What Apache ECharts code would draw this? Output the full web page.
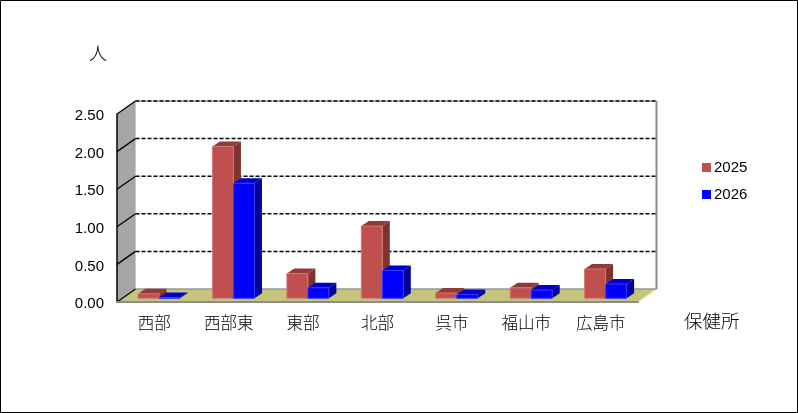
<!DOCTYPE html>
<html><head><meta charset="utf-8">
<style>html,body{margin:0;padding:0;background:#fff}#c{width:798px;height:413px}</style>
<script src="https://cdn.jsdelivr.net/npm/echarts@6/dist/echarts.min.js"></script>
</head><body><div id="c"></div>
<script>
const categories = ['西部','西部東','東部','北部','呉市','福山市','広島市'];
const series2025 = [0.06,2.02,0.33,0.96,0.07,0.14,0.39];
const series2026 = [0.01,1.53,0.14,0.37,0.05,0.11,0.19];
const seriesNames = ['2025','2026'];
const yTicks = [0,0.5,1,1.5,2,2.5];
const yUnit = '人';
const xUnit = '保健所';

const DX = 18.5, DY = 13;       // depth of the floor / walls
const BAR_DX = 7.5, BAR_DY = 5;   // depth of a bar
const INSET_X = 4.8, INSET_Y = 3.7; // bars stand inside the floor
const BAR_W = 21;

function poly(points, fill, stroke, z2) {
  return {type:'polygon', z2:z2||0, shape:{points}, style:{fill, stroke:stroke||'none', lineWidth:stroke?1:0}};
}
function seg(x1,y1,x2,y2,stroke,lineWidth,lineDash,z2) {
  return {type:'line', z2:z2||0, shape:{x1,y1,x2,y2}, style:{stroke, lineWidth:lineWidth||1, lineDash:lineDash||null}};
}
function frameItem(params, api) {
  const cs = params.coordSys;
  const l = cs.x, r = cs.x + cs.width;
  const top = api.coord([0, 2.5])[1], bot = api.coord([0, 0])[1];
  const kids = [];
  // left wall
  kids.push(poly([[l,top],[l+DX,top-DY],[l+DX,bot-DY],[l,bot]], '#a6a6a6'));
  kids.push(seg(l+DX,top-DY,l+DX,bot-DY,'#c8c8c8',1));
  // floor
  kids.push(poly([[l,bot],[l+DX,bot-DY],[r+DX,bot-DY],[r,bot]], '#c4c47c'));
  kids.push(seg(r,bot,r+DX,bot-DY,'#e8e8a8',1.5));
  // back wall edges
  kids.push(seg(l+DX,bot-DY,r+DX,bot-DY,'#999999',1.5));
  kids.push(seg(r+DX,top-DY,r+DX,bot-DY,'#8c8c8c',2));
  kids.push(seg(l+DX,top-DY,r+DX,top-DY,'#999999',1));
  // grid lines, the wall diagonals and dashes
  yTicks.forEach(t => {
    const y = api.coord([0,t])[1];
    kids.push(seg(l,y,l+DX,y-DY,'#000',1.3));
    if (t > 0) kids.push(seg(l+DX,y-DY,r+DX,y-DY,'#000',1.5,[4,2]));
  });
  return {type:'group', children:kids};
}
function barItem(offsetIdx, front, topC, sideC, edge) {
  return function(params, api) {
    const p0 = api.coord([api.value(0), 0]);
    const p1 = api.coord([api.value(0), api.value(1)]);
    const x0 = p0[0] - BAR_W + offsetIdx*BAR_W + INSET_X;
    const x1 = x0 + BAR_W;
    const yb = p0[1] - INSET_Y, yt = p1[1] - INSET_Y;
    return {type:'group', children:[
      poly([[x0,yt],[x0+BAR_DX,yt-BAR_DY],[x1+BAR_DX,yt-BAR_DY],[x1,yt]], topC),
      poly([[x1,yt],[x1+BAR_DX,yt-BAR_DY],[x1+BAR_DX,yb-BAR_DY],[x1,yb]], sideC),
      poly([[x0,yt],[x1,yt],[x1,yb],[x0,yb]], front, edge)
    ]};
  };
}
const chart = echarts.init(document.getElementById('c'));
const textFont = '"Noto Sans CJK JP"';
const numFont = '"Liberation Sans"';
chart.setOption({
  animation:false,
  backgroundColor:'#fff',
  grid:{left:117, width:521, top:114, height:188},
  legend:{
    data:seriesNames, orient:'vertical', left:697, top:155, itemWidth:9, itemHeight:9, itemGap:12,
    icon:'rect', textStyle:{fontFamily:numFont, fontSize:15, color:'#000', padding:[0,0,0,-2]}
  },
  xAxis:{
    type:'category', data:categories, z:3,
    axisLine:{lineStyle:{color:'#8c8c8c', width:2}},
    axisTick:{inside:true, length:5, lineStyle:{color:'#000', width:1}},
    axisLabel:{fontFamily:textFont, fontSize:16.5, fontWeight:300, color:'#000', margin:12, interval:0}
  },
  yAxis:{
    type:'value', min:0, max:2.5, interval:0.5, z:3,
    axisLine:{show:true, lineStyle:{color:'#000', width:1.5}},
    axisTick:{show:false}, splitLine:{show:false},
    axisLabel:{fontFamily:numFont, fontSize:15, color:'#000', margin:13, verticalAlign:'top', lineHeight:4, formatter:v=>v.toFixed(2)}
  },
  graphic:[
    {type:'rect', shape:{x:0.5,y:0.5,width:797,height:412}, style:{fill:'none', stroke:'#000', lineWidth:1}, z:10, silent:true},
    {type:'text', left:89, top:44, style:{text:yUnit, fontFamily:textFont, fontSize:18, fontWeight:300, fill:'#000'}, silent:true},
    {type:'text', left:684, top:312, style:{text:xUnit, fontFamily:textFont, fontSize:18.5, fontWeight:300, fill:'#000'}, silent:true}
  ],
  series:[
    {type:'custom', name:'frame', z:2, silent:true, data:[0], encode:{x:0,y:0}, renderItem:frameItem, clip:false},
    {type:'custom', name:seriesNames[0], z:4, silent:true, itemStyle:{color:'#c0504d'},
     data:series2025.map((v,i)=>[i,v]), encode:{x:0,y:1}, clip:false,
     renderItem:barItem(0,'#c0504d','#8f3b39','#7f3331','#d07a78')},
    {type:'custom', name:seriesNames[1], z:5, silent:true, itemStyle:{color:'#0000ff'},
     data:series2026.map((v,i)=>[i,v]), encode:{x:0,y:1}, clip:false,
     renderItem:barItem(1,'#0000ff','#0000cc','#00009b','#3a3aff')}
  ]
});
</script></body></html>
